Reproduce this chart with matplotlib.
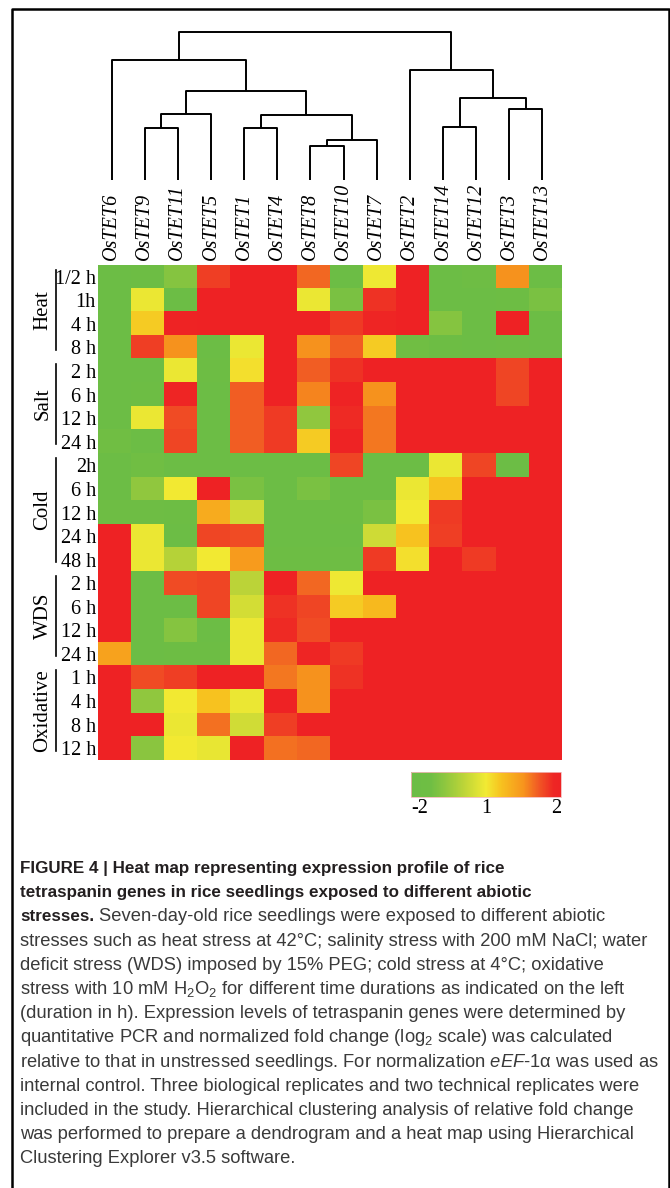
import numpy as np
import matplotlib
matplotlib.use("Agg")
import matplotlib.pyplot as plt
from matplotlib.colors import LinearSegmentedColormap, TwoSlopeNorm
from matplotlib.transforms import blended_transform_factory
from matplotlib.lines import Line2D

plt.rcParams["mathtext.fontset"] = "custom"
plt.rcParams["mathtext.rm"] = "Liberation Sans"
plt.rcParams["mathtext.it"] = "Liberation Sans:italic"
plt.rcParams["mathtext.bf"] = "Liberation Sans:bold"
plt.rcParams["mathtext.default"] = "regular"

# --- data ---
genes = ["OsTET6", "OsTET9", "OsTET11", "OsTET5", "OsTET1", "OsTET4", "OsTET8",
         "OsTET10", "OsTET7", "OsTET2", "OsTET14", "OsTET12", "OsTET3", "OsTET13"]

row_labels = ["1/2 h", "1h", "4 h", "8 h",
              "2 h", "6 h", "12 h", "24 h",
              "2h", "6 h", "12 h", "24 h", "48 h",
              "2 h", "6 h", "12 h", "24 h",
              "1 h", "4 h", "8 h", "12 h"]

groups = ["Heat", "Salt", "Cold", "WDS", "Oxidative"]
group_sizes = [4, 4, 5, 4, 4]

# log2 fold change (one row per time point)
heat = [
    [-2, -1.6, -0.8, 1.8, 2, 2, 1.65, -2, 0.95, 2, -2, -1.4, 1.5, -2],
    [-2, 0.9, -2, 2, 2, 2, 0.9, -1.0, 1.85, 2, -2, -2, -1.5, -1.0],
    [-2, 1.15, 1.95, 2, 2, 2, 2, 1.82, 1.9, 2, -0.8, -2, 2, -2],
    [-2, 1.8, 1.5, -2, 0.9, 2, 1.5, 1.68, 1.15, -1.2, -1.6, -2, -1.6, -2],
]
salt = [
    [-2, -2, 0.9, -1.5, 1.05, 2, 1.68, 1.85, 2, 2, 2, 2, 1.78, 2],
    [-2, -1.5, 1.92, -2, 1.68, 2, 1.55, 1.95, 1.5, 2, 2, 2, 1.78, 2],
    [-2, 0.9, 1.75, -2, 1.68, 1.82, -0.6, 1.88, 1.6, 2, 2, 2, 2, 2],
    [-1.2, -2, 1.78, -2, 1.68, 1.82, 1.15, 1.95, 1.6, 2, 2, 2, 2, 2],
]
cold = [
    [-2, -1.2, -2, -2, -2, -2, -2, 1.78, -2, -2, 0.9, 1.78, -2, 2],
    [-2, -0.6, 1.0, 2, -1.0, -2, -1.0, -2, -2, 0.9, 1.2, 2, 2, 2],
    [-1.3, -1.3, -1.6, 1.35, 0.4, -2, -2, -1.5, -1.0, 1.0, 1.82, 2, 2, 2],
    [2, 0.9, -2, 1.78, 1.75, -2, -2, -2, 0.4, 1.2, 1.8, 2, 2, 2],
    [2, 0.9, 0.0, 1.0, 1.45, -1.5, -1.5, -1.3, 1.82, 1.05, 2, 1.82, 2, 2],
]
wds = [
    [2, -2, 1.75, 1.78, 0.1, 2, 1.65, 0.95, 2, 2, 2, 2, 2, 2],
    [2, -2, -2, 1.78, 0.5, 1.85, 1.78, 1.15, 1.25, 2, 2, 2, 2, 2],
    [2, -2, -0.8, -2, 0.9, 1.88, 1.75, 2, 2, 2, 2, 2, 2, 2],
    [1.4, -2, -1.6, -1.6, 0.9, 1.65, 1.92, 1.82, 2, 2, 2, 2, 2, 2],
]
oxidative = [
    [2, 1.75, 1.8, 2, 2, 1.6, 1.5, 1.85, 2, 2, 2, 2, 2, 2],
    [1.97, -0.6, 1.0, 1.2, 0.9, 2, 1.5, 2, 2, 2, 2, 2, 2, 2],
    [2, 2, 0.9, 1.62, 0.45, 1.8, 2, 2, 2, 2, 2, 2, 2, 2],
    [2, -0.7, 1.0, 0.85, 2, 1.62, 1.65, 2, 2, 2, 2, 2, 2, 2],
]

# dendrogram merges: (child a, child b, height); leaves 0..13, merges get ids 14+
merges = [
    (1, 2, 52), (14, 3, 66), (4, 5, 52), (6, 7, 34), (17, 8, 40),
    (16, 18, 65), (15, 19, 89), (0, 20, 120),
    (10, 11, 53), (12, 13, 71), (22, 23, 82), (9, 24, 110),
    (21, 25, 148),
]

cbar_ticks = [-2, 1, 2]

caption = [
    ("FIGURE 4 | Heat map representing expression profile of rice", ""),
    ("tetraspanin genes in rice seedlings exposed to different abiotic", ""),
    ("stresses.", "Seven-day-old rice seedlings were exposed to different abiotic"),
    ("", "stresses such as heat stress at 42\u00b0C; salinity stress with 200 mM NaCl; water"),
    ("", "deficit stress (WDS) imposed by 15% PEG; cold stress at 4\u00b0C; oxidative"),
    ("", "stress with 10 mM H$_2$O$_2$ for different time durations as indicated on the left"),
    ("", "(duration in h). Expression levels of tetraspanin genes were determined by"),
    ("", "quantitative PCR and normalized fold change (log$_2$ scale) was calculated"),
    ("", "relative to that in unstressed seedlings. For normalization $\\mathit{eEF}$-$\\mathit{1}$\u03b1 was used as"),
    ("", "internal control. Three biological replicates and two technical replicates were"),
    ("", "included in the study. Hierarchical clustering analysis of relative fold change"),
    ("", "was performed to prepare a dendrogram and a heat map using Hierarchical"),
    ("", "Clustering Explorer v3.5 software."),
]

vals = np.array(heat + salt + cold + wds + oxidative)

# --- layout helpers (pixel -> figure) ---
W, H = 670, 1188
def fx(px):
    return px / W
def fy(py):
    return 1 - py / H

serif = "Liberation Serif"
sans = "Liberation Sans"

fig = plt.figure(figsize=(6.7, 11.88), dpi=100)
fig.patch.set_facecolor("white")

cmap = LinearSegmentedColormap.from_list("gyr", [
    (0.00, "#6cbd45"), (0.13, "#6fbe44"), (0.22, "#8cc63f"), (0.35, "#bcd438"),
    (0.50, "#f2ea33"), (0.60, "#f7c21f"), (0.75, "#f7941d"), (0.85, "#f15a24"),
    (0.95, "#ee2624"), (1.00, "#ee2224")])
norm = TwoSlopeNorm(vmin=-2, vcenter=1, vmax=2)

# heat map
hm_top, hm_bot, hm_left, hm_right = 265, 760, 98, 562
ax = fig.add_axes([fx(hm_left), fy(hm_bot), (hm_right - hm_left) / W, (hm_bot - hm_top) / H])
im = ax.imshow(vals, cmap=cmap, norm=norm, aspect="auto", interpolation="nearest")
ax.set_xticks([])
ax.set_yticks(range(len(row_labels)))
ax.set_yticklabels(row_labels, fontfamily=serif, fontsize=14.5)
ax.tick_params(axis="y", length=0, pad=1.5)
for s in ax.spines.values():
    s.set_visible(False)

# stress group brackets and labels
tr = blended_transform_factory(fig.transFigure, ax.transData)
start = 0
for name, n in zip(groups, group_sizes):
    y0 = start - 0.5 + 0.2
    y1 = start + n - 0.5 - 0.4
    fig.add_artist(Line2D([fx(56), fx(56)], [y0, y1], transform=tr, color="black", lw=1.2))
    ax.text(fx(43), (y0 + y1) / 2, name, transform=tr, rotation=90, ha="center", va="center",
            fontfamily=serif, fontsize=15)
    start += n

# dendrogram
dd_top, dd_bot, shift = 32, 180, 3
axd = fig.add_axes([fx(hm_left - shift), fy(dd_bot), (hm_right - hm_left) / W, (dd_bot - dd_top) / H])
axd.set_xlim(-0.5, len(genes) - 0.5)
axd.set_ylim(0, merges[-1][2])
axd.axis("off")
node_x = list(range(len(genes)))
node_h = [0] * len(genes)
for a, b, h in merges:
    axd.plot([node_x[a], node_x[a], node_x[b], node_x[b]], [node_h[a], h, h, node_h[b]],
             color="black", lw=1.4, solid_capstyle="butt", clip_on=False)
    node_x.append((node_x[a] + node_x[b]) / 2)
    node_h.append(h)

trg = blended_transform_factory(axd.transData, fig.transFigure)
for i, g in enumerate(genes):
    axd.text(i, fy(260), g, transform=trg, rotation=90, ha="center", va="bottom",
             fontfamily=serif, fontstyle="italic", fontsize=14.5)

# colour bar
cax = fig.add_axes([fx(411), fy(797), 150 / W, 25 / H])
cb = fig.colorbar(im, cax=cax, orientation="horizontal", ticks=cbar_ticks)
cb.ax.set_xticklabels([str(t) for t in cbar_ticks])
cb.ax.tick_params(length=0, pad=1.5)
cb.outline.set_edgecolor("#f2b8b8")
cb.outline.set_linewidth(0.6)
tl = cb.ax.get_xticklabels()
for t in tl:
    t.set_fontfamily(serif)
    t.set_fontsize(14.5)
tl[0].set_ha("left")
tl[-1].set_ha("right")

# frame
frame_kw = dict(transform=fig.transFigure, color="black", lw=1.8)
fig.add_artist(Line2D([fx(12), fx(12), fx(668.5), fx(668.5)], [0, fy(9), fy(9), 0], **frame_kw))

# caption, sizes fitted to the printed line widths
renderer = fig.canvas.get_renderer()
def fit_size(text, weight, target):
    t = fig.text(0, 0, text, fontfamily=sans, fontweight=weight, fontsize=12)
    w = t.get_window_extent(renderer).width
    t.remove()
    return 12 * target / w

reg_size = fit_size(caption[3][1], "normal", 631)
bold_size = fit_size(caption[0][0], "bold", 482)
cap_x, cap_y0, cap_dy = 20, 873, 24.2
for i, (bold, reg) in enumerate(caption):
    y = fy(cap_y0 + i * cap_dy)
    x = cap_x
    if bold:
        t = fig.text(fx(x), y, bold, fontfamily=sans, fontweight="bold", fontsize=bold_size,
                     color="#231f20", va="baseline")
        x += t.get_window_extent(renderer).width + 5
    if reg:
        fig.text(fx(x), y, reg, fontfamily=sans, fontsize=reg_size, color="#3a3a3a", va="baseline")

fig.savefig("out.png", dpi=100)
